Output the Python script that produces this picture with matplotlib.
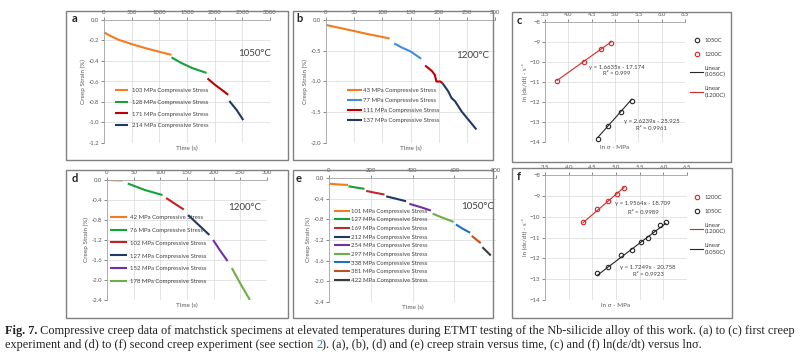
import numpy as np
import matplotlib
matplotlib.use("Agg")
import matplotlib.pyplot as plt
from matplotlib.patches import Rectangle

plt.rcParams['font.family'] = ['Lato', 'DejaVu Sans']

W, H = 800, 360

# ---------------- data ----------------
# (a) first creep experiment, 1050 C
a_labels = ['103 MPa Compressive Stress', '128 MPa Compressive Stress',
            '171 MPa Compressive Stress', '214 MPa Compressive Stress']
a_colors = ['#F47B20', '#17A035', '#C00000', '#1F3864']
a_time = [[0, 100, 250, 500, 750, 1000, 1220],
          [1220, 1400, 1600, 1853],
          [1870, 2000, 2150, 2245],
          [2265, 2400, 2517]]
a_strain = [[-0.12, -0.15, -0.19, -0.235, -0.275, -0.31, -0.34],
            [-0.365, -0.42, -0.47, -0.516],
            [-0.57, -0.63, -0.69, -0.73],
            [-0.79, -0.88, -0.977]]

# (b) first creep experiment, 1200 C
b_labels = ['43 MPa Compressive Stress', '77 MPa Compressive Stress',
            '111 MPa Compressive Stress', '137 MPa Compressive Stress']
b_colors = ['#F47B20', '#3E8EDE', '#C00000', '#1F3864']
b_time = [[0, 20, 50, 80, 113],
          [121, 135, 150, 169],
          [176, 188, 193, 196, 203, 207],
          [207, 217, 223, 229, 241, 267]]
b_strain = [[-0.08, -0.12, -0.18, -0.24, -0.30],
            [-0.38, -0.45, -0.51, -0.63],
            [-0.74, -0.83, -0.89, -1.0, -1.0, -1.03],
            [-1.03, -1.16, -1.27, -1.32, -1.49, -1.78]]

# (c) ln(strain rate) vs ln(stress), first experiment
c_x_1050 = [4.63, 4.85, 5.13, 5.36]
c_y_1050 = [-13.85, -13.2, -12.5, -11.95]
c_x_1200 = [3.76, 4.33, 4.70, 4.91]
c_y_1200 = [-10.95, -10.0, -9.35, -9.05]
c_fit_1050 = (2.6239, -25.925)
c_fit_1200 = (1.6635, -17.174)

# (d) second creep experiment, 1200 C
d_labels = ['42 MPa Compressive Stress', '76 MPa Compressive Stress',
            '102 MPa Compressive Stress', '127 MPa Compressive Stress',
            '152 MPa Compressive Stress', '178 MPa Compressive Stress']
d_colors = ['#F47B20', '#13A538', '#C81E1E', '#203864', '#7030A0', '#70AD47']
d_time = [[0, 15, 29],
          [39, 71, 104],
          [111, 128, 144],
          [152, 172, 192],
          [199, 212, 226],
          [234, 250, 268]]
d_strain = [[0.0, -0.005, -0.01],
            [-0.07, -0.2, -0.30],
            [-0.36, -0.48, -0.59],
            [-0.70, -0.90, -1.10],
            [-1.20, -1.41, -1.62],
            [-1.76, -2.07, -2.40]]

# (e) second creep experiment, 1050 C
e_labels = ['101 MPa Compressive Stress', '127 MPa Compressive Stress',
            '169 MPa Compressive Stress', '212 MPa Compressive Stress',
            '254 MPa Compressive Stress', '297 MPa Compressive Stress',
            '338 MPa Compressive Stress', '381 MPa Compressive Stress',
            '422 MPa Compressive Stress']
e_colors = ['#F47B20', '#17A035', '#C0282D', '#1F3864', '#7030A0',
            '#70AD47', '#1F6FBF', '#C0501A', '#3A3A3A']
e_time = [[0, 45, 91], [93, 130, 170], [178, 220, 266], [274, 320, 369],
          [385, 440, 488], [496, 545, 597], [608, 640, 676], [684, 705, 727],
          [735, 755, 775]]
e_strain = [[-0.11, -0.125, -0.135], [-0.16, -0.185, -0.21],
            [-0.25, -0.285, -0.32], [-0.355, -0.40, -0.45],
            [-0.50, -0.565, -0.63], [-0.69, -0.77, -0.85],
            [-0.90, -0.98, -1.06], [-1.12, -1.19, -1.26],
            [-1.34, -1.42, -1.50]]

# (f) ln(strain rate) vs ln(stress), second experiment
f_x_1200 = [4.30, 4.60, 4.83, 5.03, 5.17]
f_y_1200 = [-10.26, -9.63, -9.25, -8.91, -8.63]
f_x_1050 = [4.60, 4.83, 5.10, 5.34, 5.53, 5.68, 5.81, 5.94, 6.05]
f_y_1050 = [-12.71, -12.42, -11.85, -11.61, -11.22, -11.03, -10.74, -10.41, -10.26]
f_fit_1200 = (1.9564, -18.709)
f_fit_1050 = (1.7249, -20.758)

fig = plt.figure(figsize=(W / 100, H / 100), dpi=100)
fig.patch.set_facecolor('white')


def px_axes(x0, y0, x1, y1):
    return fig.add_axes([x0 / W, 1 - y1 / H, (x1 - x0) / W, (y1 - y0) / H])


def box(x0, y0, x1, y1):
    fig.add_artist(Rectangle((x0 / W, 1 - y1 / H), (x1 - x0) / W, (y1 - y0) / H,
                             transform=fig.transFigure, fill=False,
                             ec='#808080', lw=1.0))


def ptext(x, y, s, size=4.3, **kw):
    # text placed in pixel coords measured from the top-left corner
    fig.text(x / W, 1 - y / H, s, fontsize=size, color='#404040',
             ha='center', va='center', **kw)


def fmt(vals):
    return ['%.1f' % (round(v, 1) + 0.0) for v in vals]


def style(ax):
    ax.spines['right'].set_visible(False)
    ax.spines['bottom'].set_visible(False)
    for s in ['left', 'top']:
        ax.spines[s].set_color('#A6A6A6')
        ax.spines[s].set_linewidth(0.6)
    ax.xaxis.tick_top()
    ax.xaxis.set_label_position('bottom')
    ax.tick_params(labelsize=4.3, colors='#595959', length=2, width=0.5, pad=1.5)
    ax.grid(color='#D9D9D9', lw=0.5)
    ax.set_axisbelow(True)


def legend_at(ax, handles, labels, xpx, ypx, spacing, hl=2.2, pad=0.3):
    ax.legend(handles, labels, loc='upper left',
              bbox_to_anchor=(xpx / W, 1 - ypx / H), bbox_transform=fig.transFigure,
              frameon=False, fontsize=4.3, labelspacing=spacing,
              handlelength=hl, handletextpad=pad, borderpad=0, borderaxespad=0,
              labelcolor='#404040')


def creep_panel(ax, times, strains, labels, colors):
    hs = []
    for t, s, c in zip(times, strains, colors):
        h, = ax.plot(t, s, color=c, lw=1.5, solid_capstyle='butt')
        hs.append(h)
    ax.set_ylabel('Creep Strain (%)', fontsize=4.6, color='#595959', labelpad=2)
    ax.set_xlabel('Time (s)', fontsize=4.6, color='#595959', labelpad=2)
    return hs


def rate_panel(ax):
    ax.set_xlim(3.5, 6.5)
    ax.set_ylim(-14, -8)
    ticks = np.arange(3.5, 6.51, 0.5)
    ax.set_xticks(ticks)
    ax.set_xticklabels(fmt(ticks))
    ax.set_yticks(range(-14, -7))
    style(ax)
    ax.set_ylabel('ln (dε/dt) - s⁻¹', fontsize=4.6, color='#595959', labelpad=2)
    ax.set_xlabel('ln σ - MPa', fontsize=4.6, color='#595959', labelpad=2)


# ---------------- panel boxes ----------------
box(66, 11, 288, 160)
box(293, 11, 493, 160)
box(512, 12, 731, 162)
box(66, 170, 288, 318)
box(293, 170, 493, 318)
box(512, 168, 732, 318)

# ---------------- (a) ----------------
ax = px_axes(104, 20, 270, 143)
hs = creep_panel(ax, a_time, a_strain, a_labels, a_colors)
ax.set_xlim(0, 3000)
ax.set_ylim(-1.2, 0)
ax.set_xticks(range(0, 3001, 500))
ticks = np.arange(-1.2, 0.01, 0.2)
ax.set_yticks(ticks)
ax.set_yticklabels(fmt(ticks))
style(ax)
legend_at(ax, hs, a_labels, 115, 87.5, 1.13, hl=2.2, pad=0.6)
ptext(255, 53, '1050°C', size=7)

# ---------------- (b) ----------------
ax = px_axes(326, 20, 495, 143)
hs = creep_panel(ax, b_time, b_strain, b_labels, b_colors)
ax.set_xlim(0, 300)
ax.set_ylim(-2.0, 0)
ax.set_xticks(range(0, 301, 50))
ticks = np.arange(-2.0, 0.01, 0.5)
ax.set_yticks(ticks)
ax.set_yticklabels(fmt(ticks))
style(ax)
legend_at(ax, hs, b_labels, 347, 87.5, 0.82, hl=2.5, pad=0.2)
ptext(473, 56, '1200°C', size=7)

# ---------------- (c) ----------------
ax = px_axes(545, 22, 685, 142)
rate_panel(ax)
p1050, = ax.plot(c_x_1050, c_y_1050, 'o', mfc='none', mec='#262626', ms=3.2, mew=0.8)
p1200, = ax.plot(c_x_1200, c_y_1200, 'o', mfc='none', mec='#D62728', ms=3.2, mew=0.8)
xs = np.array([min(c_x_1050), max(c_x_1050)])
l1050, = ax.plot(xs, c_fit_1050[0] * xs + c_fit_1050[1], color='#262626', lw=0.8)
xs = np.array([min(c_x_1200), max(c_x_1200)])
l1200, = ax.plot(xs, c_fit_1200[0] * xs + c_fit_1200[1], color='#D62728', lw=0.8)
ax.legend([p1050, p1200, l1050, l1200],
          ['1050C', '1200C', 'Linear\n(1050C)', 'Linear\n(1200C)'],
          loc='upper left', bbox_to_anchor=(690 / W, 1 - 38 / H),
          bbox_transform=fig.transFigure, frameon=False, fontsize=4.3,
          labelspacing=1.5, handlelength=2.2, handletextpad=0.3,
          borderpad=0, borderaxespad=0, labelcolor='#404040')
ptext(617, 67, 'y = 1.6635x - 17.174')
ptext(617, 73.5, 'R² = 0.999')
ptext(652, 122, 'y = 2.6239x - 25.925')
ptext(651, 128.5, 'R² = 0.9961')

# ---------------- (d) ----------------
ax = px_axes(107, 180, 267, 300)
hs = creep_panel(ax, d_time, d_strain, d_labels, d_colors)
ax.set_xlim(0, 300)
ax.set_ylim(-2.4, 0)
ax.set_xticks(range(0, 301, 50))
ticks = np.arange(-2.4, 0.01, 0.4)
ax.set_yticks(ticks)
ax.set_yticklabels(fmt(ticks))
style(ax)
legend_at(ax, hs, d_labels, 110, 214.5, 1.3, hl=2.9, pad=0.5)
ptext(245, 208, '1200°C', size=7)

# ---------------- (e) ----------------
ax = px_axes(329, 178, 496, 302)
hs = creep_panel(ax, e_time, e_strain, e_labels, e_colors)
ax.set_xlim(0, 800)
ax.set_ylim(-2.4, 0)
ax.set_xticks(range(0, 801, 200))
ticks = np.arange(-2.4, 0.01, 0.4)
ax.set_yticks(ticks)
ax.set_yticklabels(fmt(ticks))
style(ax)
legend_at(ax, hs, e_labels, 334, 208.5, 0.58, hl=2.6, pad=0.2)
ptext(478, 207, '1050°C', size=7)

# ---------------- (f) ----------------
ax = px_axes(545, 175, 687, 300)
rate_panel(ax)
p1200, = ax.plot(f_x_1200, f_y_1200, 'o', mfc='none', mec='#D62728', ms=3.2, mew=0.8)
p1050, = ax.plot(f_x_1050, f_y_1050, 'o', mfc='none', mec='#262626', ms=3.2, mew=0.8)
xs = np.array([min(f_x_1200), max(f_x_1200)])
l1200, = ax.plot(xs, f_fit_1200[0] * xs + f_fit_1200[1], color='#D62728', lw=0.8)
xs = np.array([min(f_x_1050), max(f_x_1050)])
l1050, = ax.plot(xs, f_fit_1050[0] * xs + f_fit_1050[1], color='#262626', lw=0.8)
ax.legend([p1200, p1050, l1200, l1050],
          ['1200C', '1050C', 'Linear\n(1200C)', 'Linear\n(1050C)'],
          loc='upper left', bbox_to_anchor=(690 / W, 1 - 195 / H),
          bbox_transform=fig.transFigure, frameon=False, fontsize=4.3,
          labelspacing=1.5, handlelength=2.2, handletextpad=0.3,
          borderpad=0, borderaxespad=0, labelcolor='#404040')
ptext(643, 204, 'y = 1.9564x - 18.709')
ptext(643, 212.5, 'R² = 0.9989')
ptext(648, 267, 'y = 1.7249x - 20.758')
ptext(648, 275, 'R² = 0.9923')

# ---------------- panel letters ----------------
for letter, x, y in [('a', 72, 19), ('b', 296, 19), ('c', 517, 20),
                     ('d', 72, 178), ('e', 296, 178), ('f', 517, 176)]:
    fig.text(x / W, 1 - y / H, letter, fontsize=8, fontweight='bold',
             color='#222222', ha='left', va='center')

# ---------------- caption ----------------
cap_font = ['Liberation Serif', 'DejaVu Serif']
line1 = [('Fig. 7.', 'bold', '#222222'),
         (' Compressive creep data of matchstick specimens at elevated temperatures '
          'during ETMT testing of the Nb-silicide alloy of this work. (a) to (c) first creep',
          'normal', '#222222')]
line2 = [('experiment and (d) to (f) second creep experiment (see section ', 'normal', '#222222'),
         ('2', 'normal', '#2A6EBB'),
         ('). (a), (b), (d) and (e) creep strain versus time, (c) and (f) ln(dε/dt) versus lnσ.',
          'normal', '#222222')]

renderer = fig.canvas.get_renderer()


def line_width(runs, size):
    w = 0
    for s, wt, c in runs:
        t = fig.text(0, 0, s, fontsize=size, fontweight=wt, family=cap_font)
        w += t.get_window_extent(renderer).width
        t.remove()
    return w


size = 10 * 786 / line_width(line1, 10)
for runs, ypx in [(line1, 334), (line2, 348)]:
    x = 5
    for s, wt, c in runs:
        t = fig.text(x / W, 1 - ypx / H, s, fontsize=size, fontweight=wt,
                     family=cap_font, color=c, va='baseline')
        x += t.get_window_extent(renderer).width

fig.savefig('out.png', dpi=100)
